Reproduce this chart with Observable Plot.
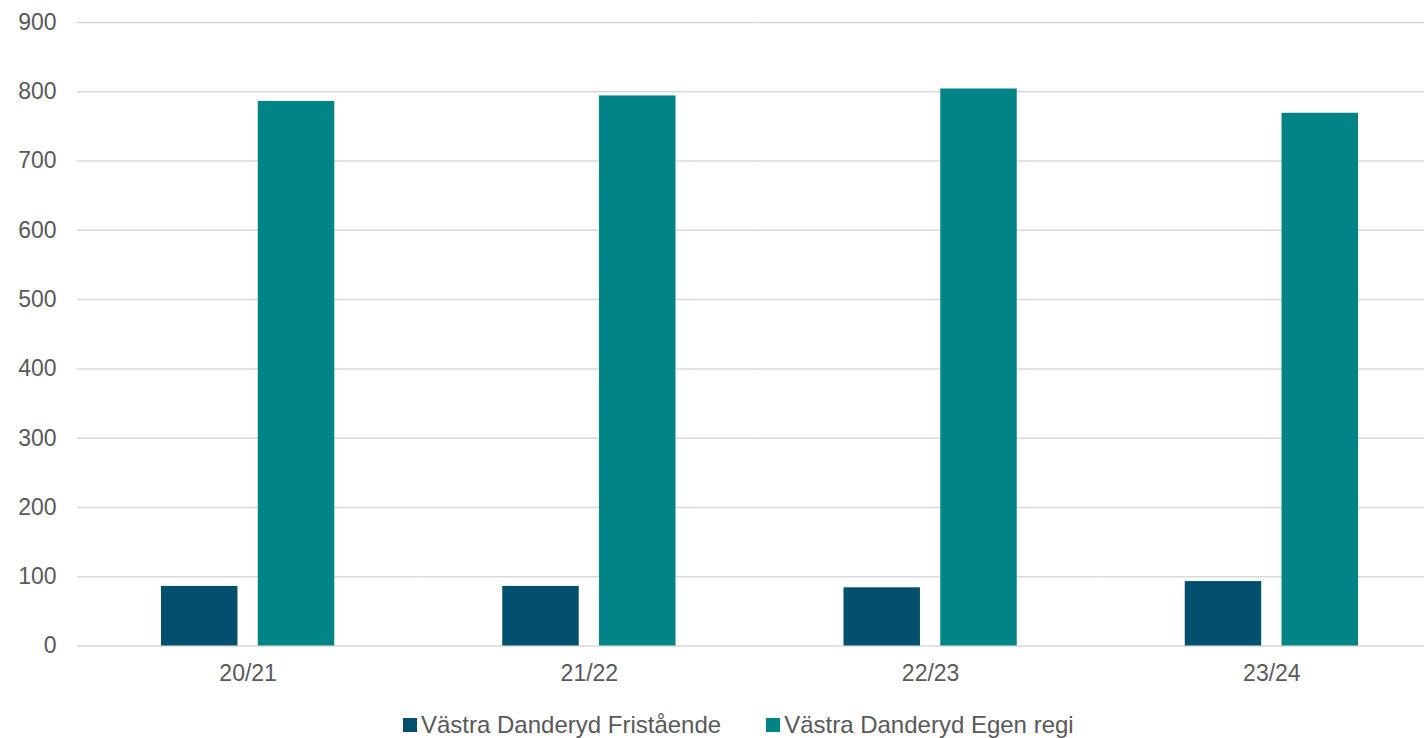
<!DOCTYPE html>
<html>
<head>
<meta charset="utf-8">
<script src="https://cdn.jsdelivr.net/npm/d3@7"></script>
<script src="https://cdn.jsdelivr.net/npm/@observablehq/plot@0.6"></script>
<style>
  html, body { margin: 0; padding: 0; background: #fff; overflow: hidden; width: 1424px; height: 738px; }
  #chart { position: absolute; left: 0; top: 0; width: 1442px; }
  #chart svg { max-width: none !important; }
  #legend { position: absolute; left: 403px; top: 706px; height: 38px; display: flex; align-items: center;
            font-family: "Liberation Sans", Arial, sans-serif; font-size: 24px; color: #595959; white-space: nowrap; }
  .item { display: flex; align-items: center; margin-right: 45px; }
  .sw { width: 14px; height: 14px; margin-right: 4px; }
</style>
</head>
<body>
<div id="chart"></div>
<div id="legend"></div>
<script>
const periods = ["20/21", "21/22", "22/23", "23/24"];
const seriesNames = ["Västra Danderyd Fristående", "Västra Danderyd Egen regi"];
const fristaende = [86, 86, 84, 93];
const egenRegi = [786, 794, 804, 769];
const seriesColors = ["#02506e", "#008486"];
const yTicks = [0, 100, 200, 300, 400, 500, 600, 700, 800, 900];

const data = periods.flatMap((p, i) => [
  {period: p, series: seriesNames[0], value: fristaende[i]},
  {period: p, series: seriesNames[1], value: egenRegi[i]}
]);

const chart = Plot.plot({
  width: 1442,
  height: 700,
  marginLeft: 77,
  marginRight: 0,
  marginTop: 22,
  marginBottom: 54.5,
  style: {fontFamily: "'Liberation Sans', Arial, sans-serif", fontSize: "23px", color: "#595959", background: "white", maxWidth: "none", overflow: "visible"},
  fx: {domain: periods, padding: 0, label: null, round: false},
  x: {domain: seriesNames, paddingInner: 0.21, paddingOuter: 0.868, axis: null, round: false},
  y: {domain: [0, 900], label: null},
  color: {domain: seriesNames, range: seriesColors},
  marks: [
    Plot.gridY(yTicks, {stroke: "#d9d9d9", strokeOpacity: 1, strokeWidth: 1.5}),
    Plot.barY(data, {fx: "period", x: "series", y: "value", fill: "series"}),
    Plot.axisY(yTicks, {tickSize: 0, tickPadding: 21, label: null, fill: "#595959"}),
    Plot.axisFx({anchor: "bottom", tickSize: 0, tickPadding: 19, label: null, fill: "#595959"})
  ]
});
document.getElementById("chart").appendChild(chart);

const legend = document.getElementById("legend");
seriesNames.forEach((name, i) => {
  const item = document.createElement("div");
  item.className = "item";
  const sw = document.createElement("div");
  sw.className = "sw";
  sw.style.background = seriesColors[i];
  const label = document.createElement("span");
  label.textContent = name;
  item.appendChild(sw);
  item.appendChild(label);
  legend.appendChild(item);
});
</script>
</body>
</html>
